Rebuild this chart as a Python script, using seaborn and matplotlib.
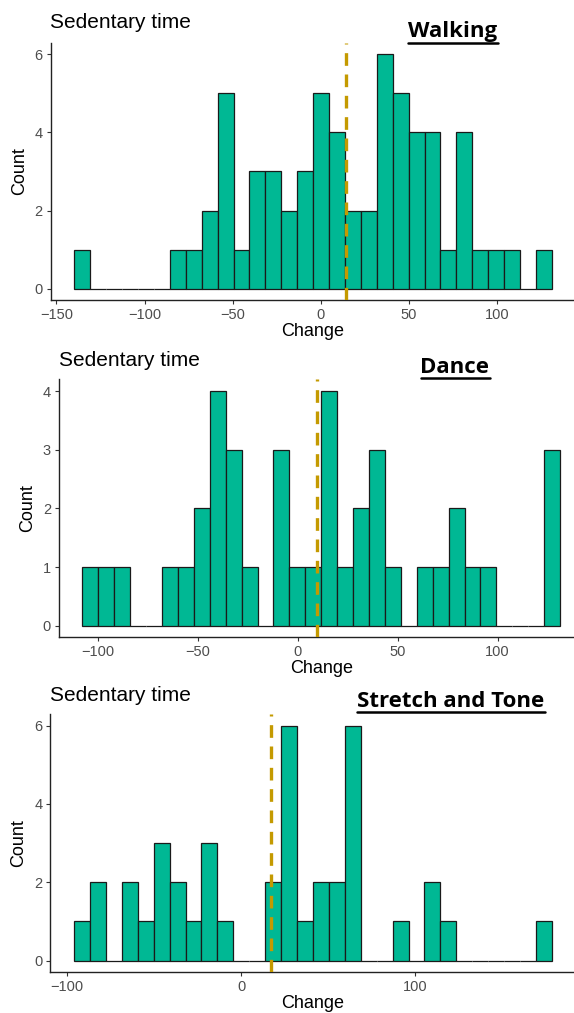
import numpy as np
import pandas as pd
import matplotlib
matplotlib.use("Agg")
import matplotlib.pyplot as plt
from matplotlib.lines import Line2D
from matplotlib.transforms import Bbox
import seaborn as sns

# binned counts (30 bins each, ggplot style)
walking_counts = [1, 0, 0, 0, 0, 0, 1, 1, 2, 5, 1, 3, 3, 2, 3,
                  5, 4, 2, 2, 6, 5, 4, 4, 1, 4, 1, 1, 1, 0, 1]
walking_range = (-139.9, 131.0)
walking_mean = 14.0

dance_counts = [1, 1, 1, 0, 0, 1, 1, 2, 4, 3, 1, 0, 3, 1, 1,
                4, 1, 2, 3, 1, 0, 1, 1, 2, 1, 1, 0, 0, 0, 3]
dance_range = (-107.6, 131.2)
dance_mean = 9.9

stretch_counts = [1, 2, 0, 2, 1, 3, 2, 1, 3, 1, 0, 0, 2, 6, 1,
                  2, 2, 6, 0, 0, 1, 0, 2, 1, 0, 0, 0, 0, 0, 1]
stretch_range = (-95.7, 178.2)
stretch_mean = 17.0

titles = ["Walking", "Dance", "Stretch and Tone"]

FILL = "#00B894"
MEAN_COL = "#C49A00"
W, H = 574, 1013

sns.set_style("white")
plt.rcParams['font.family'] = ['Liberation Sans', 'DejaVu Sans']
plt.rcParams['text.color'] = "black"
plt.rcParams['axes.labelcolor'] = "black"

fig = plt.figure(figsize=(W / 100, H / 100), dpi=100)


def px_axes(left, right, top, bottom):
    return fig.add_axes([left / W, 1 - bottom / H, (right - left) / W, (bottom - top) / H])


def draw_panel(ax, counts, rng, mean, xlim, ylim, xticks, yticks):
    edges = np.linspace(rng[0], rng[1], len(counts) + 1)
    df = pd.DataFrame({"change": (edges[:-1] + edges[1:]) / 2, "n": counts})
    sns.histplot(data=df, x="change", weights="n", bins=len(counts), binrange=rng,
                 color=FILL, alpha=1, edgecolor="#1a1a1a", linewidth=0.9, ax=ax)
    ax.axvline(mean, color=MEAN_COL, lw=2.4, linestyle=(0, (3.8, 2.6)), zorder=5)
    ax.set_xlim(*xlim)
    ax.set_ylim(*ylim)
    ax.set_xticks(xticks)
    ax.set_yticks(yticks)
    ax.set_xticklabels([str(t).replace("-", "\u2212") for t in xticks])
    ax.set_xlabel("Change", fontsize=13, labelpad=1, color="black")
    ax.set_ylabel("Count", fontsize=13, labelpad=5, color="black")
    for s in ["top", "right"]:
        ax.spines[s].set_visible(False)
    for s in ["left", "bottom"]:
        ax.spines[s].set_color("#222222")
        ax.spines[s].set_linewidth(1.0)
    ax.tick_params(axis="both", which="major", length=3, width=0.8, color="#333333",
                   labelsize=10.5, labelcolor="#4D4D4D", pad=2.5, bottom=True, left=True)


ax1 = px_axes(50.5, 575.7, 42.6, 300.4)
draw_panel(ax1, walking_counts, walking_range, walking_mean, (-153.4, 144.5), (-0.3, 6.3),
           [-150, -100, -50, 0, 50, 100], [0, 2, 4, 6])

ax2 = px_axes(58.6, 583.9, 379.3, 637.4)
draw_panel(ax2, dance_counts, dance_range, dance_mean, (-119.5, 143.1), (-0.2, 4.2),
           [-100, -50, 0, 50, 100], [0, 1, 2, 3, 4])

ax3 = px_axes(50.15, 575.8, 713.9, 972.4)
draw_panel(ax3, stretch_counts, stretch_range, stretch_mean, (-109.4, 191.9), (-0.3, 6.3),
           [-100, 0, 100], [0, 2, 4, 6])

# the "Change" labels of the upper panels are cut by the next panel
for ax, cut in [(ax1, 343), (ax2, 680)]:
    lab = ax.xaxis.label
    lab.set_clip_on(True)
    lab.set_clip_box(Bbox([[0, H - cut], [W, H]]))

# "Sedentary time" headers
for x, base in [(50.5, 28.5), (59.3, 366), (50.5, 700.7)]:
    fig.text(x / W, 1 - base / H, "Sedentary time", ha="left", va="baseline",
             fontsize=15, color="black")

# bold underlined activity titles
renderer = fig.canvas.get_renderer()
for name, cx, base, uline in [(titles[0], 453, 37, 43.3),
                              (titles[1], 455, 372.7, 378.3),
                              (titles[2], 451, 706.7, 712)]:
    t = fig.text(cx / W, 1 - base / H, name, ha="center", va="baseline", color="black",
                 fontsize=16, fontweight="bold", family=["Open Sans", "DejaVu Sans"])
    bb = t.get_window_extent(renderer)
    fig.add_artist(Line2D([bb.x0 / W, bb.x1 / W], [1 - uline / H, 1 - uline / H],
                          transform=fig.transFigure, color="black", lw=1.8))

fig.savefig("out.png", dpi=100)
